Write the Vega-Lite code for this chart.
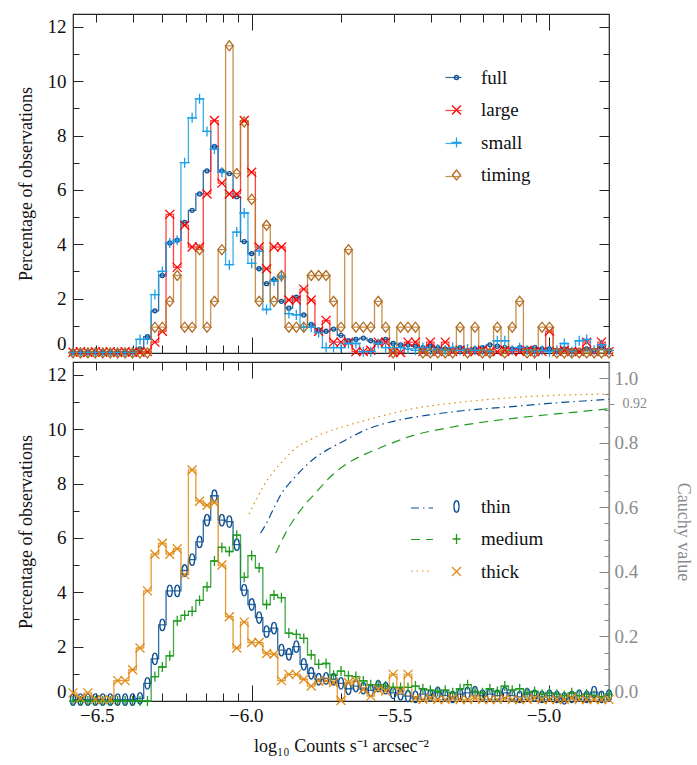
{
"$schema": "https://vega.github.io/schema/vega-lite/v6.json",
"background": "white",
"padding": {"left": 16, "top": 12, "right": 2, "bottom": 2},
"spacing": -2,
"config": {
  "font": "Liberation Serif",
  "view": {"stroke": "#222", "strokeWidth": 1.2},
  "axis": {"labelFont": "Liberation Serif", "titleFont": "Liberation Serif", "labelFontSize": 19, "titleFontSize": 18, "titleFontWeight": "normal", "labelColor": "#111", "titleColor": "#111", "tickColor": "#222", "tickWidth": 1, "domain": false, "grid": false, "labelOverlap": false},
  "legend": {"labelFont": "Liberation Serif", "labelFontSize": 19, "labelColor": "#111"}
},
"resolve": {"scale": {"color": "independent", "shape": "independent", "stroke": "independent", "strokeDash": "independent"}, "legend": {"color": "independent", "shape": "independent", "stroke": "independent", "strokeDash": "independent"}},
"datasets": {
"top": [
{"s":"full","x":-6.6,"y":0.03},{"s":"full","x":-6.575,"y":0.03},{"s":"full","x":-6.55,"y":0.03},{"s":"full","x":-6.525,"y":0.03},{"s":"full","x":-6.5,"y":0.03},{"s":"full","x":-6.475,"y":0.03},{"s":"full","x":-6.45,"y":0.03},{"s":"full","x":-6.425,"y":0.03},{"s":"full","x":-6.4,"y":0.05},{"s":"full","x":-6.375,"y":0.15},{"s":"full","x":-6.35,"y":0.6},{"s":"full","x":-6.325,"y":1.55},{"s":"full","x":-6.3,"y":2.85},{"s":"full","x":-6.275,"y":4.05},{"s":"full","x":-6.25,"y":4.15},{"s":"full","x":-6.225,"y":4.8},{"s":"full","x":-6.2,"y":5.25},{"s":"full","x":-6.175,"y":5.85},{"s":"full","x":-6.15,"y":6.7},{"s":"full","x":-6.125,"y":7.6},{"s":"full","x":-6.1,"y":6.7},{"s":"full","x":-6.075,"y":6.6},{"s":"full","x":-6.05,"y":5.75},{"s":"full","x":-6.025,"y":4.1},{"s":"full","x":-6,"y":3.65},{"s":"full","x":-5.975,"y":3.1},{"s":"full","x":-5.95,"y":2.55},{"s":"full","x":-5.925,"y":2.7},{"s":"full","x":-5.9,"y":1.9},{"s":"full","x":-5.875,"y":1.65},{"s":"full","x":-5.85,"y":2.05},{"s":"full","x":-5.825,"y":1.4},{"s":"full","x":-5.8,"y":1.05},{"s":"full","x":-5.775,"y":0.85},{"s":"full","x":-5.75,"y":0.8},{"s":"full","x":-5.725,"y":0.88},{"s":"full","x":-5.7,"y":0.65},{"s":"full","x":-5.675,"y":0.45},{"s":"full","x":-5.65,"y":0.5},{"s":"full","x":-5.625,"y":0.55},{"s":"full","x":-5.6,"y":0.45},{"s":"full","x":-5.575,"y":0.4},{"s":"full","x":-5.55,"y":0.5},{"s":"full","x":-5.525,"y":0.35},{"s":"full","x":-5.5,"y":0.3},{"s":"full","x":-5.475,"y":0.3},{"s":"full","x":-5.45,"y":0.25},{"s":"full","x":-5.425,"y":0.2},{"s":"full","x":-5.4,"y":0.25},{"s":"full","x":-5.375,"y":0.2},{"s":"full","x":-5.35,"y":0.15},{"s":"full","x":-5.325,"y":0.15},{"s":"full","x":-5.3,"y":0.2},{"s":"full","x":-5.275,"y":0.1},{"s":"full","x":-5.25,"y":0.15},{"s":"full","x":-5.225,"y":0.2},{"s":"full","x":-5.2,"y":0.3},{"s":"full","x":-5.175,"y":0.25},{"s":"full","x":-5.15,"y":0.2},{"s":"full","x":-5.125,"y":0.15},{"s":"full","x":-5.1,"y":0.2},{"s":"full","x":-5.075,"y":0.15},{"s":"full","x":-5.05,"y":0.2},{"s":"full","x":-5.025,"y":0.15},{"s":"full","x":-5,"y":0.15},{"s":"full","x":-4.975,"y":0.1},{"s":"full","x":-4.95,"y":0.15},{"s":"full","x":-4.925,"y":0.1},{"s":"full","x":-4.9,"y":0.1},{"s":"full","x":-4.875,"y":0.15},{"s":"full","x":-4.85,"y":0.1},{"s":"full","x":-4.825,"y":0.2},{"s":"full","x":-4.8,"y":0.1},
{"s":"large","x":-6.6,"y":0.03},{"s":"large","x":-6.575,"y":0.05},{"s":"large","x":-6.55,"y":0.02},{"s":"large","x":-6.525,"y":0.05},{"s":"large","x":-6.5,"y":0.03},{"s":"large","x":-6.475,"y":0.05},{"s":"large","x":-6.45,"y":0.02},{"s":"large","x":-6.425,"y":0.05},{"s":"large","x":-6.4,"y":0.03},{"s":"large","x":-6.375,"y":0.03},{"s":"large","x":-6.35,"y":0.05},{"s":"large","x":-6.325,"y":0.4},{"s":"large","x":-6.3,"y":0.8},{"s":"large","x":-6.275,"y":5.1},{"s":"large","x":-6.25,"y":3.15},{"s":"large","x":-6.225,"y":4.7},{"s":"large","x":-6.2,"y":3.9},{"s":"large","x":-6.175,"y":3.9},{"s":"large","x":-6.15,"y":5.85},{"s":"large","x":-6.125,"y":8.55},{"s":"large","x":-6.1,"y":6.25},{"s":"large","x":-6.075,"y":5.85},{"s":"large","x":-6.05,"y":5.85},{"s":"large","x":-6.025,"y":8.55},{"s":"large","x":-6,"y":6.65},{"s":"large","x":-5.975,"y":3.9},{"s":"large","x":-5.95,"y":3.1},{"s":"large","x":-5.925,"y":3.9},{"s":"large","x":-5.9,"y":3.9},{"s":"large","x":-5.875,"y":1.95},{"s":"large","x":-5.85,"y":1.95},{"s":"large","x":-5.825,"y":2.35},{"s":"large","x":-5.8,"y":1.95},{"s":"large","x":-5.775,"y":0.8},{"s":"large","x":-5.75,"y":1.2},{"s":"large","x":-5.725,"y":0.4},{"s":"large","x":-5.7,"y":0.4},{"s":"large","x":-5.675,"y":0.4},{"s":"large","x":-5.65,"y":0.05},{"s":"large","x":-5.625,"y":0.05},{"s":"large","x":-5.6,"y":0.1},{"s":"large","x":-5.575,"y":0.4},{"s":"large","x":-5.55,"y":0.4},{"s":"large","x":-5.525,"y":0.02},{"s":"large","x":-5.5,"y":0.02},{"s":"large","x":-5.475,"y":0.4},{"s":"large","x":-5.45,"y":0.4},{"s":"large","x":-5.425,"y":0.05},{"s":"large","x":-5.4,"y":0.4},{"s":"large","x":-5.375,"y":0.05},{"s":"large","x":-5.35,"y":0.4},{"s":"large","x":-5.325,"y":0.05},{"s":"large","x":-5.3,"y":0.1},{"s":"large","x":-5.275,"y":0.05},{"s":"large","x":-5.25,"y":0.05},{"s":"large","x":-5.225,"y":0.1},{"s":"large","x":-5.2,"y":0.05},{"s":"large","x":-5.175,"y":0.05},{"s":"large","x":-5.15,"y":0.1},{"s":"large","x":-5.125,"y":0.05},{"s":"large","x":-5.1,"y":0.05},{"s":"large","x":-5.075,"y":0.1},{"s":"large","x":-5.05,"y":0.05},{"s":"large","x":-5.025,"y":0.05},{"s":"large","x":-5,"y":0.8},{"s":"large","x":-4.975,"y":0.05},{"s":"large","x":-4.95,"y":0.1},{"s":"large","x":-4.925,"y":0.05},{"s":"large","x":-4.9,"y":0.05},{"s":"large","x":-4.875,"y":0.4},{"s":"large","x":-4.85,"y":0.05},{"s":"large","x":-4.825,"y":0.4},{"s":"large","x":-4.8,"y":0.05},
{"s":"small","x":-6.6,"y":0.02},{"s":"small","x":-6.575,"y":0.02},{"s":"small","x":-6.55,"y":0.02},{"s":"small","x":-6.525,"y":0.02},{"s":"small","x":-6.5,"y":0.02},{"s":"small","x":-6.475,"y":0.02},{"s":"small","x":-6.45,"y":0.02},{"s":"small","x":-6.425,"y":0.02},{"s":"small","x":-6.4,"y":0.02},{"s":"small","x":-6.375,"y":0.5},{"s":"small","x":-6.35,"y":0.5},{"s":"small","x":-6.325,"y":2.15},{"s":"small","x":-6.3,"y":3.0},{"s":"small","x":-6.275,"y":4.05},{"s":"small","x":-6.25,"y":4.15},{"s":"small","x":-6.225,"y":7.0},{"s":"small","x":-6.2,"y":8.65},{"s":"small","x":-6.175,"y":9.35},{"s":"small","x":-6.15,"y":8.15},{"s":"small","x":-6.125,"y":7.5},{"s":"small","x":-6.1,"y":6.65},{"s":"small","x":-6.075,"y":3.25},{"s":"small","x":-6.05,"y":4.45},{"s":"small","x":-6.025,"y":5.15},{"s":"small","x":-6,"y":3.3},{"s":"small","x":-5.975,"y":3.75},{"s":"small","x":-5.95,"y":1.6},{"s":"small","x":-5.925,"y":2.65},{"s":"small","x":-5.9,"y":2.8},{"s":"small","x":-5.875,"y":1.45},{"s":"small","x":-5.85,"y":1.4},{"s":"small","x":-5.825,"y":0.95},{"s":"small","x":-5.8,"y":0.95},{"s":"small","x":-5.775,"y":0.75},{"s":"small","x":-5.75,"y":0.2},{"s":"small","x":-5.725,"y":0.2},{"s":"small","x":-5.7,"y":0.2},{"s":"small","x":-5.675,"y":0.35},{"s":"small","x":-5.65,"y":0.35},{"s":"small","x":-5.625,"y":0.05},{"s":"small","x":-5.6,"y":0.05},{"s":"small","x":-5.575,"y":0.35},{"s":"small","x":-5.55,"y":0.2},{"s":"small","x":-5.525,"y":0.2},{"s":"small","x":-5.5,"y":0.2},{"s":"small","x":-5.475,"y":0.15},{"s":"small","x":-5.45,"y":0.1},{"s":"small","x":-5.425,"y":0.2},{"s":"small","x":-5.4,"y":0.1},{"s":"small","x":-5.375,"y":0.15},{"s":"small","x":-5.35,"y":0.1},{"s":"small","x":-5.325,"y":0.2},{"s":"small","x":-5.3,"y":0.1},{"s":"small","x":-5.275,"y":0.15},{"s":"small","x":-5.25,"y":0.1},{"s":"small","x":-5.225,"y":0.1},{"s":"small","x":-5.2,"y":0.05},{"s":"small","x":-5.175,"y":0.45},{"s":"small","x":-5.15,"y":0.45},{"s":"small","x":-5.125,"y":0.1},{"s":"small","x":-5.1,"y":0.2},{"s":"small","x":-5.075,"y":0.1},{"s":"small","x":-5.05,"y":0.05},{"s":"small","x":-5.025,"y":0.1},{"s":"small","x":-5,"y":0.05},{"s":"small","x":-4.975,"y":0.1},{"s":"small","x":-4.95,"y":0.35},{"s":"small","x":-4.925,"y":0.05},{"s":"small","x":-4.9,"y":0.45},{"s":"small","x":-4.875,"y":0.5},{"s":"small","x":-4.85,"y":0.1},{"s":"small","x":-4.825,"y":0.3},{"s":"small","x":-4.8,"y":0.1},
{"s":"timing","x":-6.6,"y":0},{"s":"timing","x":-6.575,"y":0},{"s":"timing","x":-6.55,"y":0},{"s":"timing","x":-6.525,"y":0},{"s":"timing","x":-6.5,"y":0},{"s":"timing","x":-6.475,"y":0},{"s":"timing","x":-6.45,"y":0},{"s":"timing","x":-6.425,"y":0},{"s":"timing","x":-6.4,"y":0},{"s":"timing","x":-6.375,"y":0},{"s":"timing","x":-6.35,"y":0},{"s":"timing","x":-6.325,"y":0.95},{"s":"timing","x":-6.3,"y":0.95},{"s":"timing","x":-6.275,"y":1.9},{"s":"timing","x":-6.25,"y":2.85},{"s":"timing","x":-6.225,"y":0.95},{"s":"timing","x":-6.2,"y":0.95},{"s":"timing","x":-6.175,"y":3.8},{"s":"timing","x":-6.15,"y":0.95},{"s":"timing","x":-6.125,"y":1.9},{"s":"timing","x":-6.1,"y":3.8},{"s":"timing","x":-6.075,"y":11.3},{"s":"timing","x":-6.05,"y":6.6},{"s":"timing","x":-6.025,"y":8.5},{"s":"timing","x":-6,"y":5.65},{"s":"timing","x":-5.975,"y":1.9},{"s":"timing","x":-5.95,"y":4.7},{"s":"timing","x":-5.925,"y":1.9},{"s":"timing","x":-5.9,"y":2.85},{"s":"timing","x":-5.875,"y":0.95},{"s":"timing","x":-5.85,"y":0.95},{"s":"timing","x":-5.825,"y":0.95},{"s":"timing","x":-5.8,"y":2.85},{"s":"timing","x":-5.775,"y":2.85},{"s":"timing","x":-5.75,"y":2.85},{"s":"timing","x":-5.725,"y":1.9},{"s":"timing","x":-5.7,"y":0.95},{"s":"timing","x":-5.675,"y":3.8},{"s":"timing","x":-5.65,"y":0.95},{"s":"timing","x":-5.625,"y":0.95},{"s":"timing","x":-5.6,"y":0.95},{"s":"timing","x":-5.575,"y":1.9},{"s":"timing","x":-5.55,"y":0.95},{"s":"timing","x":-5.525,"y":0},{"s":"timing","x":-5.5,"y":0.95},{"s":"timing","x":-5.475,"y":0.95},{"s":"timing","x":-5.45,"y":0.95},{"s":"timing","x":-5.425,"y":0},{"s":"timing","x":-5.4,"y":0},{"s":"timing","x":-5.375,"y":0},{"s":"timing","x":-5.35,"y":0},{"s":"timing","x":-5.325,"y":0},{"s":"timing","x":-5.3,"y":0.95},{"s":"timing","x":-5.275,"y":0},{"s":"timing","x":-5.25,"y":0.95},{"s":"timing","x":-5.225,"y":0},{"s":"timing","x":-5.2,"y":0},{"s":"timing","x":-5.175,"y":0.95},{"s":"timing","x":-5.15,"y":0},{"s":"timing","x":-5.125,"y":0.95},{"s":"timing","x":-5.1,"y":1.9},{"s":"timing","x":-5.075,"y":0},{"s":"timing","x":-5.05,"y":0},{"s":"timing","x":-5.025,"y":0.95},{"s":"timing","x":-5,"y":0.95},{"s":"timing","x":-4.975,"y":0},{"s":"timing","x":-4.95,"y":0},{"s":"timing","x":-4.925,"y":0},{"s":"timing","x":-4.9,"y":0},{"s":"timing","x":-4.875,"y":0},{"s":"timing","x":-4.85,"y":0},{"s":"timing","x":-4.825,"y":0},{"s":"timing","x":-4.8,"y":0}
],
"bot": [
{"s":"thin","x":-6.6,"y":0.05},{"s":"thin","x":-6.575,"y":0.05},{"s":"thin","x":-6.55,"y":0.05},{"s":"thin","x":-6.525,"y":0.05},{"s":"thin","x":-6.5,"y":0.05},{"s":"thin","x":-6.475,"y":0.05},{"s":"thin","x":-6.45,"y":0.05},{"s":"thin","x":-6.425,"y":0.05},{"s":"thin","x":-6.4,"y":0.05},{"s":"thin","x":-6.375,"y":0.1},{"s":"thin","x":-6.35,"y":0.65},{"s":"thin","x":-6.325,"y":1.55},{"s":"thin","x":-6.3,"y":2.8},{"s":"thin","x":-6.275,"y":4.05},{"s":"thin","x":-6.25,"y":4.05},{"s":"thin","x":-6.225,"y":4.8},{"s":"thin","x":-6.2,"y":5.2},{"s":"thin","x":-6.175,"y":5.85},{"s":"thin","x":-6.15,"y":6.65},{"s":"thin","x":-6.125,"y":7.55},{"s":"thin","x":-6.1,"y":6.65},{"s":"thin","x":-6.075,"y":6.6},{"s":"thin","x":-6.05,"y":5.75},{"s":"thin","x":-6.025,"y":4.08},{"s":"thin","x":-6,"y":3.55},{"s":"thin","x":-5.975,"y":3.07},{"s":"thin","x":-5.95,"y":2.55},{"s":"thin","x":-5.925,"y":2.68},{"s":"thin","x":-5.9,"y":1.87},{"s":"thin","x":-5.875,"y":1.72},{"s":"thin","x":-5.85,"y":2.0},{"s":"thin","x":-5.825,"y":1.35},{"s":"thin","x":-5.8,"y":1.02},{"s":"thin","x":-5.775,"y":0.8},{"s":"thin","x":-5.75,"y":0.83},{"s":"thin","x":-5.725,"y":0.8},{"s":"thin","x":-5.7,"y":0.65},{"s":"thin","x":-5.675,"y":0.45},{"s":"thin","x":-5.65,"y":0.55},{"s":"thin","x":-5.625,"y":0.47},{"s":"thin","x":-5.6,"y":0.39},{"s":"thin","x":-5.575,"y":0.55},{"s":"thin","x":-5.55,"y":0.47},{"s":"thin","x":-5.525,"y":0.3},{"s":"thin","x":-5.5,"y":0.25},{"s":"thin","x":-5.475,"y":0.18},{"s":"thin","x":-5.45,"y":0.15},{"s":"thin","x":-5.425,"y":0.25},{"s":"thin","x":-5.4,"y":0.2},{"s":"thin","x":-5.375,"y":0.3},{"s":"thin","x":-5.35,"y":0.2},{"s":"thin","x":-5.325,"y":0.15},{"s":"thin","x":-5.3,"y":0.25},{"s":"thin","x":-5.275,"y":0.3},{"s":"thin","x":-5.25,"y":0.33},{"s":"thin","x":-5.225,"y":0.2},{"s":"thin","x":-5.2,"y":0.25},{"s":"thin","x":-5.175,"y":0.2},{"s":"thin","x":-5.15,"y":0.3},{"s":"thin","x":-5.125,"y":0.2},{"s":"thin","x":-5.1,"y":0.15},{"s":"thin","x":-5.075,"y":0.25},{"s":"thin","x":-5.05,"y":0.2},{"s":"thin","x":-5.025,"y":0.15},{"s":"thin","x":-5,"y":0.2},{"s":"thin","x":-4.975,"y":0.15},{"s":"thin","x":-4.95,"y":0.1},{"s":"thin","x":-4.925,"y":0.15},{"s":"thin","x":-4.9,"y":0.2},{"s":"thin","x":-4.875,"y":0.15},{"s":"thin","x":-4.85,"y":0.33},{"s":"thin","x":-4.825,"y":0.15},{"s":"thin","x":-4.8,"y":0.2},
{"s":"medium","x":-6.6,"y":0},{"s":"medium","x":-6.575,"y":0},{"s":"medium","x":-6.55,"y":0},{"s":"medium","x":-6.525,"y":0},{"s":"medium","x":-6.5,"y":0},{"s":"medium","x":-6.475,"y":0},{"s":"medium","x":-6.45,"y":0},{"s":"medium","x":-6.425,"y":0},{"s":"medium","x":-6.4,"y":0},{"s":"medium","x":-6.375,"y":0},{"s":"medium","x":-6.35,"y":0},{"s":"medium","x":-6.325,"y":0.9},{"s":"medium","x":-6.3,"y":1.25},{"s":"medium","x":-6.275,"y":1.66},{"s":"medium","x":-6.25,"y":2.95},{"s":"medium","x":-6.225,"y":3.15},{"s":"medium","x":-6.2,"y":3.3},{"s":"medium","x":-6.175,"y":3.7},{"s":"medium","x":-6.15,"y":4.2},{"s":"medium","x":-6.125,"y":5.15},{"s":"medium","x":-6.1,"y":5.65},{"s":"medium","x":-6.075,"y":5.5},{"s":"medium","x":-6.05,"y":6.1},{"s":"medium","x":-6.025,"y":4.55},{"s":"medium","x":-6,"y":5.35},{"s":"medium","x":-5.975,"y":4.9},{"s":"medium","x":-5.95,"y":3.55},{"s":"medium","x":-5.925,"y":3.9},{"s":"medium","x":-5.9,"y":3.8},{"s":"medium","x":-5.875,"y":2.5},{"s":"medium","x":-5.85,"y":2.45},{"s":"medium","x":-5.825,"y":2.3},{"s":"medium","x":-5.8,"y":1.7},{"s":"medium","x":-5.775,"y":1.35},{"s":"medium","x":-5.75,"y":1.38},{"s":"medium","x":-5.725,"y":0.95},{"s":"medium","x":-5.7,"y":1.1},{"s":"medium","x":-5.675,"y":0.93},{"s":"medium","x":-5.65,"y":0.9},{"s":"medium","x":-5.625,"y":0.74},{"s":"medium","x":-5.6,"y":0.6},{"s":"medium","x":-5.575,"y":0.6},{"s":"medium","x":-5.55,"y":0.55},{"s":"medium","x":-5.525,"y":0.5},{"s":"medium","x":-5.5,"y":0.5},{"s":"medium","x":-5.475,"y":0.5},{"s":"medium","x":-5.45,"y":0.55},{"s":"medium","x":-5.425,"y":0.45},{"s":"medium","x":-5.4,"y":0.4},{"s":"medium","x":-5.375,"y":0.35},{"s":"medium","x":-5.35,"y":0.4},{"s":"medium","x":-5.325,"y":0.3},{"s":"medium","x":-5.3,"y":0.45},{"s":"medium","x":-5.275,"y":0.6},{"s":"medium","x":-5.25,"y":0.35},{"s":"medium","x":-5.225,"y":0.3},{"s":"medium","x":-5.2,"y":0.45},{"s":"medium","x":-5.175,"y":0.35},{"s":"medium","x":-5.15,"y":0.55},{"s":"medium","x":-5.125,"y":0.4},{"s":"medium","x":-5.1,"y":0.45},{"s":"medium","x":-5.075,"y":0.3},{"s":"medium","x":-5.05,"y":0.35},{"s":"medium","x":-5.025,"y":0.25},{"s":"medium","x":-5,"y":0.3},{"s":"medium","x":-4.975,"y":0.25},{"s":"medium","x":-4.95,"y":0.2},{"s":"medium","x":-4.925,"y":0.3},{"s":"medium","x":-4.9,"y":0.2},{"s":"medium","x":-4.875,"y":0.25},{"s":"medium","x":-4.85,"y":0.2},{"s":"medium","x":-4.825,"y":0.15},{"s":"medium","x":-4.8,"y":0.25},
{"s":"thick","x":-6.6,"y":0.3},{"s":"thick","x":-6.575,"y":0.1},{"s":"thick","x":-6.55,"y":0.3},{"s":"thick","x":-6.525,"y":0.05},{"s":"thick","x":-6.5,"y":0.05},{"s":"thick","x":-6.475,"y":0.05},{"s":"thick","x":-6.45,"y":0.75},{"s":"thick","x":-6.425,"y":0.75},{"s":"thick","x":-6.4,"y":1.15},{"s":"thick","x":-6.375,"y":1.95},{"s":"thick","x":-6.35,"y":4.05},{"s":"thick","x":-6.325,"y":5.4},{"s":"thick","x":-6.3,"y":5.8},{"s":"thick","x":-6.275,"y":5.4},{"s":"thick","x":-6.25,"y":5.6},{"s":"thick","x":-6.225,"y":4.65},{"s":"thick","x":-6.2,"y":8.5},{"s":"thick","x":-6.175,"y":7.35},{"s":"thick","x":-6.15,"y":7.2},{"s":"thick","x":-6.125,"y":7.3},{"s":"thick","x":-6.1,"y":5.0},{"s":"thick","x":-6.075,"y":3.1},{"s":"thick","x":-6.05,"y":1.95},{"s":"thick","x":-6.025,"y":2.9},{"s":"thick","x":-6,"y":2.15},{"s":"thick","x":-5.975,"y":2.15},{"s":"thick","x":-5.95,"y":1.75},{"s":"thick","x":-5.925,"y":1.72},{"s":"thick","x":-5.9,"y":0.75},{"s":"thick","x":-5.875,"y":0.98},{"s":"thick","x":-5.85,"y":0.98},{"s":"thick","x":-5.825,"y":0.8},{"s":"thick","x":-5.8,"y":0.55},{"s":"thick","x":-5.775,"y":0.74},{"s":"thick","x":-5.75,"y":0.74},{"s":"thick","x":-5.725,"y":0.68},{"s":"thick","x":-5.7,"y":0.02},{"s":"thick","x":-5.675,"y":0.68},{"s":"thick","x":-5.65,"y":0.74},{"s":"thick","x":-5.625,"y":0.43},{"s":"thick","x":-5.6,"y":0.18},{"s":"thick","x":-5.575,"y":0.43},{"s":"thick","x":-5.55,"y":0.37},{"s":"thick","x":-5.525,"y":0.98},{"s":"thick","x":-5.5,"y":0.37},{"s":"thick","x":-5.475,"y":0.98},{"s":"thick","x":-5.45,"y":0.1},{"s":"thick","x":-5.425,"y":0.05},{"s":"thick","x":-5.4,"y":0.1},{"s":"thick","x":-5.375,"y":0.05},{"s":"thick","x":-5.35,"y":0.05},{"s":"thick","x":-5.325,"y":0.1},{"s":"thick","x":-5.3,"y":0.05},{"s":"thick","x":-5.275,"y":0.05},{"s":"thick","x":-5.25,"y":0.1},{"s":"thick","x":-5.225,"y":0.05},{"s":"thick","x":-5.2,"y":0.05},{"s":"thick","x":-5.175,"y":0.05},{"s":"thick","x":-5.15,"y":0.1},{"s":"thick","x":-5.125,"y":0.05},{"s":"thick","x":-5.1,"y":0.05},{"s":"thick","x":-5.075,"y":0.05},{"s":"thick","x":-5.05,"y":0.1},{"s":"thick","x":-5.025,"y":0.05},{"s":"thick","x":-5,"y":0.05},{"s":"thick","x":-4.975,"y":0.05},{"s":"thick","x":-4.95,"y":0.05},{"s":"thick","x":-4.925,"y":0.1},{"s":"thick","x":-4.9,"y":0.05},{"s":"thick","x":-4.875,"y":0.05},{"s":"thick","x":-4.85,"y":0.05},{"s":"thick","x":-4.825,"y":0.05},{"s":"thick","x":-4.8,"y":0.05}
],
"cauchy": [
{"s":"thin","x":-5.97,"c":0.52},{"s":"thin","x":-5.953,"c":0.546},{"s":"thin","x":-5.925,"c":0.598},{"s":"thin","x":-5.902,"c":0.639},{"s":"thin","x":-5.863,"c":0.685},{"s":"thin","x":-5.824,"c":0.723},{"s":"thin","x":-5.785,"c":0.755},{"s":"thin","x":-5.74,"c":0.781},{"s":"thin","x":-5.701,"c":0.8},{"s":"thin","x":-5.617,"c":0.84},{"s":"thin","x":-5.516,"c":0.868},{"s":"thin","x":-5.404,"c":0.886},{"s":"thin","x":-5.293,"c":0.899},{"s":"thin","x":-5.124,"c":0.912},{"s":"thin","x":-4.956,"c":0.925},{"s":"thin","x":-4.8,"c":0.934},
{"s":"medium","x":-5.919,"c":0.458},{"s":"medium","x":-5.886,"c":0.52},{"s":"medium","x":-5.841,"c":0.585},{"s":"medium","x":-5.785,"c":0.645},{"s":"medium","x":-5.729,"c":0.7},{"s":"medium","x":-5.662,"c":0.745},{"s":"medium","x":-5.6,"c":0.772},{"s":"medium","x":-5.54,"c":0.795},{"s":"medium","x":-5.46,"c":0.822},{"s":"medium","x":-5.347,"c":0.845},{"s":"medium","x":-5.213,"c":0.865},{"s":"medium","x":-5.056,"c":0.882},{"s":"medium","x":-4.922,"c":0.894},{"s":"medium","x":-4.8,"c":0.905},
{"s":"thick","x":-6.009,"c":0.579},{"s":"thick","x":-5.981,"c":0.63},{"s":"thick","x":-5.959,"c":0.668},{"s":"thick","x":-5.925,"c":0.712},{"s":"thick","x":-5.891,"c":0.748},{"s":"thick","x":-5.852,"c":0.783},{"s":"thick","x":-5.802,"c":0.81},{"s":"thick","x":-5.751,"c":0.832},{"s":"thick","x":-5.684,"c":0.852},{"s":"thick","x":-5.583,"c":0.878},{"s":"thick","x":-5.46,"c":0.905},{"s":"thick","x":-5.292,"c":0.926},{"s":"thick","x":-5.067,"c":0.943},{"s":"thick","x":-4.8,"c":0.951}
]
},
"vconcat": [
{
  "width": 536, "height": 339,
  "data": {"name": "top"},
  "layer": [
    {
      "mark": {"type": "line", "interpolate": "step", "strokeWidth": 1.3, "opacity": 0.85},
      "encoding": {
        "x": {"field": "x", "type": "quantitative", "scale": {"domain": [-6.6, -4.8], "nice": false, "zero": false},
          "axis": {"orient": "bottom", "values": [-6.5228787, -6.39794, -6.30103, -6.2218487, -6.154902, -6.09691, -6.0457575, -6, -5.69897, -5.5228787, -5.39794, -5.30103, -5.2218487, -5.154902, -5.09691, -5.0457575, -5], "labels": false, "title": null,
            "tickSize": {"condition": {"test": "datum.value == -6 || datum.value == -5", "value": -16}, "value": -8}}},
        "y": {"field": "y", "type": "quantitative", "scale": {"domain": [0, 12.47], "nice": false},
          "axis": {"orient": "left", "values": [0,1,2,3,4,5,6,7,8,9,10,11,12], "title": "Percentage of observations", "labelExpr": "datum.value % 2 == 0 ? datum.label : ''",
            "tickSize": {"condition": {"test": "datum.value % 2 == 0", "value": -10}, "value": -6}, "labelPadding": 17, "titlePadding": 12, "labelFlush": true}},
        "stroke": {"field": "s", "type": "nominal", "scale": {"domain": ["full", "large", "small", "timing"], "range": ["#0d4f91", "#ff2020", "#1a9fe8", "#bd7d30"]},
          "legend": {"orient": "none", "legendX": 371, "legendY": 54, "title": null, "symbolType": "stroke", "symbolSize": 256, "symbolStrokeWidth": 1.2, "labelExpr": "''", "labelOffset": 0, "rowPadding": 13, "padding": 0,
            "encode": {"symbols": {"update": {"opacity": {"signal": "datum.value === 'full' || datum.value === 'timing' ? 1 : 0"}}}}}}
      }
    },
    {
      "mark": {"type": "point", "filled": false, "strokeWidth": 1.3, "size": 100, "opacity": 1},
      "encoding": {
        "x": {"field": "x", "type": "quantitative", "scale": {"domain": [-6.6, -4.8], "nice": false, "zero": false},
          "axis": {"orient": "top", "values": [-6.5228787, -6.39794, -6.30103, -6.2218487, -6.154902, -6.09691, -6.0457575, -6, -5.69897, -5.5228787, -5.39794, -5.30103, -5.2218487, -5.154902, -5.09691, -5.0457575, -5], "labels": false, "title": null,
            "tickSize": {"condition": {"test": "datum.value == -6 || datum.value == -5", "value": -16}, "value": -8}}},
        "y": {"field": "y", "type": "quantitative", "scale": {"domain": [0, 12.47], "nice": false},
          "axis": {"orient": "right", "values": [0,1,2,3,4,5,6,7,8,9,10,11,12], "labels": false, "title": null,
            "tickSize": {"condition": {"test": "datum.value % 2 == 0", "value": -10}, "value": -6}}},
        "color": {"field": "s", "type": "nominal", "scale": {"domain": ["full", "large", "small", "timing"], "range": ["#0d4f91", "#ff0000", "#1a9fe8", "#b06d22"]},
          "legend": {"orient": "none", "legendX": 374, "legendY": 54, "title": null, "symbolSize": 100, "symbolStrokeWidth": 1.3, "labelOffset": 15, "rowPadding": 12.5, "padding": 0}},
        "shape": {"field": "s", "type": "nominal", "scale": {"domain": ["full", "large", "small", "timing"], "range": ["M-0.4,0A0.4,0.4 0 1,1 0.4,0A0.4,0.4 0 1,1 -0.4,0Z", "M-0.9,-0.9L0.9,0.9M-0.9,0.9L0.9,-0.9", "M-1,0L1,0M0,-1L0,1", "M-0.8,0L0,-1L0.8,0L0,1Z"]},
          "legend": {"orient": "none", "legendX": 374, "legendY": 54, "title": null, "symbolSize": 100, "symbolStrokeWidth": 1.3, "labelOffset": 15, "rowPadding": 12.5, "padding": 0}}
      }
    }
  ],
  "resolve": {"axis": {"x": "independent", "y": "independent"}, "legend": {"stroke": "independent"}}
},
{
  "width": 536, "height": 339,
  "layer": [
    {
      "data": {"name": "bot"},
      "mark": {"type": "line", "interpolate": "step", "strokeWidth": 1.3, "opacity": 0.85},
      "encoding": {
        "x": {"field": "x", "type": "quantitative", "scale": {"domain": [-6.6, -4.8], "nice": false, "zero": false},
          "axis": {"orient": "bottom", "values": [-6.5228787, -6.39794, -6.30103, -6.2218487, -6.154902, -6.09691, -6.0457575, -6, -5.69897, -5.5228787, -5.39794, -5.30103, -5.2218487, -5.154902, -5.09691, -5.0457575, -5, -6.5, -5.5],
            "labelExpr": "(datum.value == -6.5 || datum.value == -6 || datum.value == -5.5 || datum.value == -5) ? format(datum.value, '.1f') : ''",
            "tickSize": {"condition": {"test": "datum.value == -6 || datum.value == -5 || datum.value == -6.5 || datum.value == -5.5", "value": -16}, "value": -8},
            "tickOpacity": {"condition": {"test": "datum.value == -6.5 || datum.value == -5.5", "value": 0}, "value": 1},
            "labelPadding": 21, "labelOffset": -6, "labelFlush": false, "title": "log₁₀  Counts s⁻¹ arcsec⁻²", "titlePadding": 4}},
        "y": {"field": "y", "type": "quantitative", "scale": {"domain": [0, 12.47], "nice": false},
          "axis": {"orient": "left", "values": [0,1,2,3,4,5,6,7,8,9,10,11,12], "title": "Percentage of observations", "labelExpr": "datum.value % 2 == 0 ? datum.label : ''",
            "tickSize": {"condition": {"test": "datum.value % 2 == 0", "value": -10}, "value": -6}, "labelPadding": 17, "titlePadding": 12, "labelFlush": true}},
        "stroke": {"field": "s", "type": "nominal", "scale": {"domain": ["thin", "medium", "thick"], "range": ["#0d4f91", "#1f9a1f", "#e08a14"]}, "legend": null}
      }
    },
    {
      "data": {"name": "cauchy"},
      "mark": {"type": "line", "interpolate": "monotone", "strokeWidth": 1.2},
      "encoding": {
        "x": {"field": "x", "type": "quantitative", "scale": {"domain": [-6.6, -4.8], "nice": false, "zero": false}, "axis": null},
        "y": {"field": "c", "type": "quantitative", "scale": {"domain": [0, 1.05], "nice": false},
          "axis": {"orient": "right", "values": [0,0.05,0.1,0.15,0.2,0.25,0.3,0.35,0.4,0.45,0.5,0.55,0.6,0.65,0.7,0.75,0.8,0.85,0.9,0.95,1.0,0.92],
            "title": "Cauchy value", "titleColor": "#8a8a8a", "labelColor": "#8a8a8a", "tickColor": "#8a8a8a", "domain": true, "domainColor": "#8a8a8a", "domainWidth": 1.2,
            "labelExpr": "abs(datum.value - 0.92) < 0.000001 ? '0.92' : (abs(datum.value * 5 - round(datum.value * 5)) < 0.000001 ? format(datum.value, '.1f') : '')",
            "tickSize": {"condition": [{"test": "abs(datum.value - 0.92) < 0.000001", "value": 5}, {"test": "abs(datum.value * 5 - round(datum.value * 5)) < 0.000001", "value": -10}], "value": -5},
            "labelPadding": {"condition": {"test": "abs(datum.value - 0.92) < 0.000001", "value": 8}, "value": 15},
            "labelFontSize": {"condition": {"test": "abs(datum.value - 0.92) < 0.000001", "value": 14}, "value": 19},
            "labelFlush": true, "titlePadding": 27}},
        "stroke": {"field": "s", "type": "nominal", "scale": {"domain": ["thin", "medium", "thick"], "range": ["#0d4f91", "#1f9a1f", "#e08a14"]},
          "legend": {"orient": "none", "legendX": 337, "legendY": 134, "title": null, "symbolType": "stroke", "symbolSize": 484, "symbolStrokeWidth": 1.2, "labelExpr": "''", "labelOffset": 0, "rowPadding": 9.5, "padding": 0}},
        "strokeDash": {"field": "s", "type": "nominal", "scale": {"domain": ["thin", "medium", "thick"], "range": [[8, 4, 1.5, 4], [9, 6], [1.5, 4]]},
          "legend": {"orient": "none", "legendX": 337, "legendY": 134, "title": null, "symbolType": "stroke", "symbolSize": 484, "symbolStrokeWidth": 1.2, "labelExpr": "''", "labelOffset": 0, "rowPadding": 9.5, "padding": 0}}
      }
    },
    {
      "data": {"name": "bot"},
      "mark": {"type": "point", "filled": false, "strokeWidth": 1.3, "size": 100, "opacity": 1},
      "encoding": {
        "x": {"field": "x", "type": "quantitative", "scale": {"domain": [-6.6, -4.8], "nice": false, "zero": false},
          "axis": {"orient": "top", "values": [-6.5228787, -6.39794, -6.30103, -6.2218487, -6.154902, -6.09691, -6.0457575, -6, -5.69897, -5.5228787, -5.39794, -5.30103, -5.2218487, -5.154902, -5.09691, -5.0457575, -5], "labels": false, "title": null,
            "tickSize": {"condition": {"test": "datum.value == -6 || datum.value == -5", "value": -16}, "value": -8}}},
        "y": {"field": "y", "type": "quantitative", "scale": {"domain": [0, 12.47], "nice": false}, "axis": null},
        "color": {"field": "s", "type": "nominal", "scale": {"domain": ["thin", "medium", "thick"], "range": ["#0d4f91", "#1f9a1f", "#e08a14"]},
          "legend": {"orient": "none", "legendX": 374, "legendY": 135, "title": null, "symbolSize": 100, "symbolStrokeWidth": 1.3, "labelOffset": 15, "rowPadding": 12.5, "padding": 0}},
        "shape": {"field": "s", "type": "nominal", "scale": {"domain": ["thin", "medium", "thick"], "range": ["M0,-1.15A0.5,1.15 0 1,1 0,1.15A0.5,1.15 0 1,1 0,-1.15Z", "M-0.8,0L0.8,0M0,-1L0,1", "M-0.9,-0.9L0.9,0.9M-0.9,0.9L0.9,-0.9"]},
          "legend": {"orient": "none", "legendX": 374, "legendY": 135, "title": null, "symbolSize": 100, "symbolStrokeWidth": 1.3, "labelOffset": 15, "rowPadding": 12.5, "padding": 0}}
      }
    }
  ],
  "resolve": {"scale": {"y": "independent"}, "axis": {"x": "independent", "y": "independent"}, "legend": {"stroke": "independent", "strokeDash": "independent", "color": "independent", "shape": "independent"}}
}
]
}
